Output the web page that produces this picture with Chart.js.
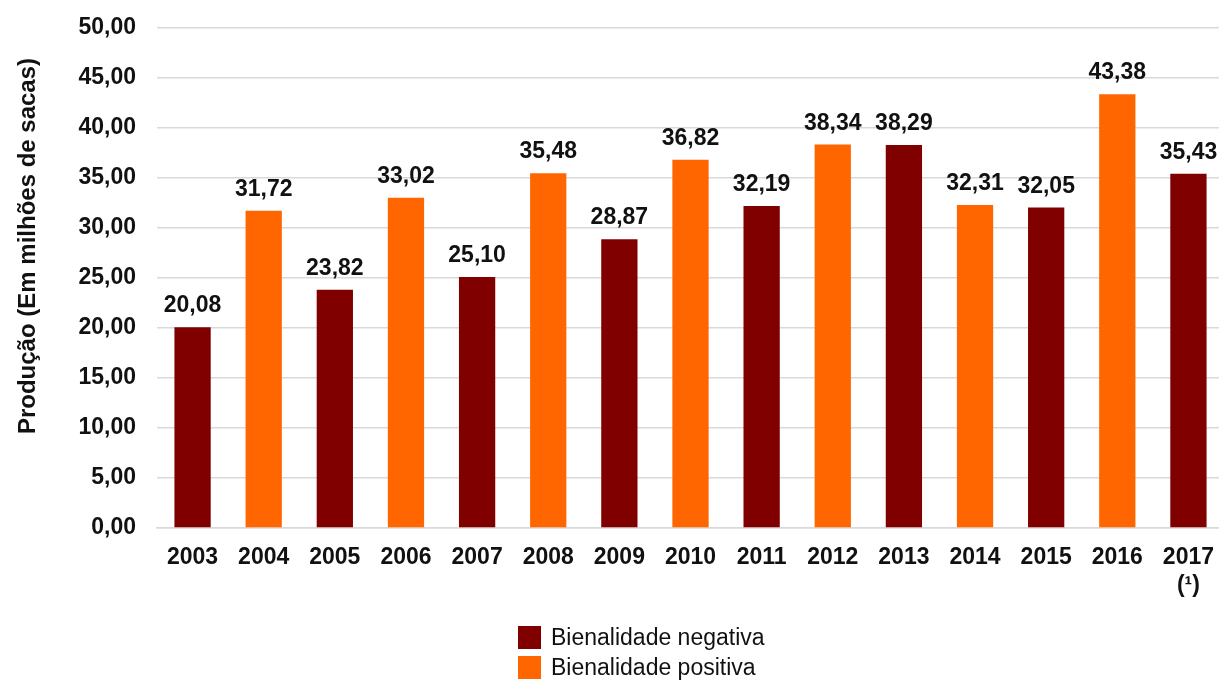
<!DOCTYPE html>
<html lang="pt-BR">
<head>
<meta charset="utf-8">
<title>Produção de café</title>
<script src="https://cdn.jsdelivr.net/npm/chart.js@4.4.1/dist/chart.umd.min.js"></script>
<style>
  html, body { margin: 0; padding: 0; background: #fff; overflow: hidden; }
  .wrap { position: relative; width: 1219px; height: 682px; overflow: hidden; }
  #chart { position: absolute; left: 0; top: 0; }
  .legend { position: absolute; left: 518px; top: 622px; font-family: Arial, "Liberation Sans", sans-serif; font-size: 23px; color: #111; }
  .legend-item { display: flex; align-items: center; height: 30px; }
  .legend-box { width: 23px; height: 23px; margin-right: 10px; }
</style>
</head>
<body>
<div class="wrap">
  <!-- o original corta a última categoria um pouco fora da borda direita -->
  <canvas id="chart" width="1224" height="682"></canvas>
  <div class="legend" id="legend"></div>
</div>
<script>
// ===== dados =====
const anos = ['2003', '2004', '2005', '2006', '2007', '2008', '2009', '2010',
  '2011', '2012', '2013', '2014', '2015', '2016', ['2017', '(¹)']];
const bienalNegativa = [20.08, null, 23.82, null, 25.10, null, 28.87, null,
  32.19, null, 38.29, null, 32.05, null, 35.43];
const bienalPositiva = [null, 31.72, null, 33.02, null, 35.48, null, 36.82,
  null, 38.34, null, 32.31, null, 43.38, null];
const ticksY = [0, 5, 10, 15, 20, 25, 30, 35, 40, 45, 50];
const tituloY = 'Produção (Em milhões de sacas)';

const COR_NEG = '#800000';
const COR_POS = '#ff6600';
const FONTE = 'Arial, "Liberation Sans", sans-serif';

const fmt = v => v.toFixed(2).replace('.', ',');

// rótulos em cima das barras + título do eixo Y
const rotulosBarras = {
  id: 'rotulosBarras',
  afterDatasetsDraw(chart) {
    const ctx = chart.ctx;
    ctx.save();
    ctx.font = 'bold 23px ' + FONTE;
    ctx.fillStyle = '#111';
    ctx.textAlign = 'center';
    ctx.textBaseline = 'alphabetic';
    chart.data.datasets.forEach((ds, i) => {
      chart.getDatasetMeta(i).data.forEach((bar, j) => {
        const v = ds.data[j];
        if (v == null) return;
        ctx.fillText(fmt(v), bar.x, bar.y - 15);
      });
    });
    // título vertical (no original fica um pouco acima do centro)
    ctx.translate(28, 246);
    ctx.rotate(-Math.PI / 2);
    ctx.textBaseline = 'middle';
    ctx.font = 'bold 24px ' + FONTE;
    ctx.fillText(tituloY, 0, 0);
    ctx.restore();
  }
};

const chart = new Chart(document.getElementById('chart'), {
  type: 'bar',
  data: {
    labels: anos,
    datasets: [
      { label: 'Bienalidade negativa', data: bienalNegativa, backgroundColor: COR_NEG },
      { label: 'Bienalidade positiva', data: bienalPositiva, backgroundColor: COR_POS }
    ]
  },
  options: {
    responsive: false,
    animation: false,
    layout: { padding: { top: 28, right: 0, bottom: 0, left: 0 } },
    datasets: { bar: { categoryPercentage: 1, barPercentage: 0.51 } },
    plugins: {
      legend: { display: false },
      tooltip: { enabled: false }
    },
    scales: {
      x: {
        stacked: true,
        grid: { display: false, drawTicks: false },
        border: { color: '#d9d9d9', width: 1.5 },
        ticks: {
          color: '#111',
          padding: 16,
          maxRotation: 0,
          font: { family: FONTE, size: 23, weight: 'bold' },
        },
        afterFit(scale) {
          scale.height = 154;
          scale.paddingLeft = 0;
          scale.paddingRight = 0;
        }
      },
      y: {
        stacked: true,
        min: 0,
        max: 50,
        afterBuildTicks(scale) { scale.ticks = ticksY.map(v => ({ value: v })); },
        grid: { color: '#d9d9d9', lineWidth: 1.5, drawTicks: false },
        border: { display: false },
        ticks: {
          color: '#111',
          padding: 21,
          callback: v => fmt(v),
          font: { family: FONTE, size: 23, weight: 'bold' }
        },
        afterFit(scale) {
          scale.width = 157;
          scale.paddingTop = 0;
          scale.paddingBottom = 0;
        }
      }
    }
  },
  plugins: [rotulosBarras]
});

// legenda
document.getElementById('legend').innerHTML = chart.data.datasets.map(ds => `
  <div class="legend-item">
    <div class="legend-box" style="background:${ds.backgroundColor}"></div>
    <span>${ds.label}</span>
  </div>`).join('');
</script>
</body>
</html>
